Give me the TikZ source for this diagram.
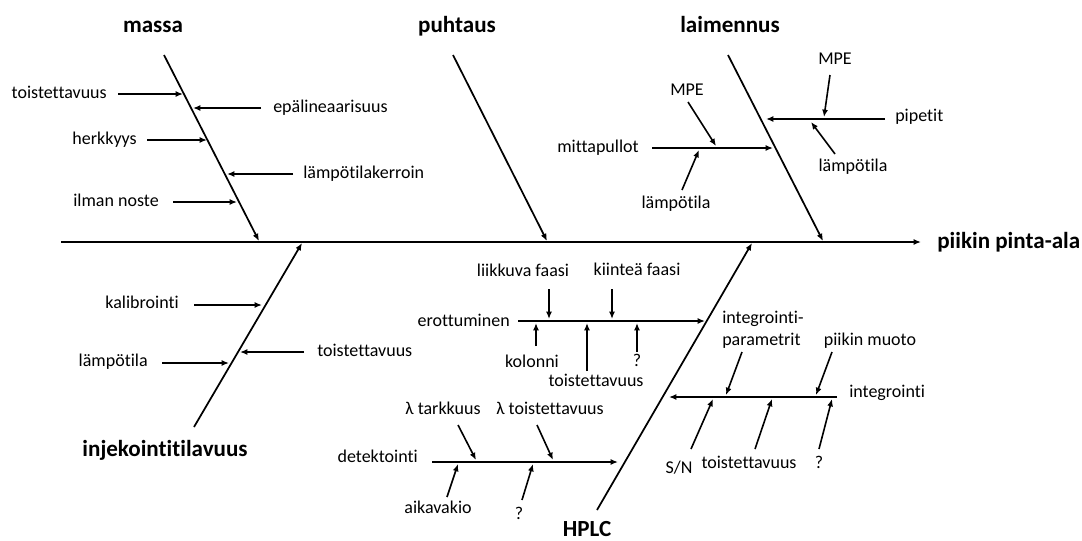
\documentclass[tikz,border=0pt]{standalone}
\usepackage{fontspec}
\setmainfont{Carlito}[Ligatures=NoCommon]
\usetikzlibrary{arrows.meta}
\begin{document}
\begin{tikzpicture}[x=0.75pt,y=-0.75pt,
  lbl/.style={font=\fontsize{13.5}{15.8}\selectfont, inner sep=0pt, text height=9.5pt, text depth=3pt},
  lbltwo/.style={font=\fontsize{13.5}{15.8}\selectfont, inner sep=0pt, align=left},
  ttl/.style={font=\fontsize{17.3}{20}\selectfont\bfseries, inner sep=0pt, text height=12pt, text depth=4pt},
  bone/.style={line width=1.3pt, -{Latex[length=5.5pt,width=4.5pt]}},
  arr/.style={line width=1.2pt, -{Latex[length=5.5pt,width=4.5pt]}}]
\useasboundingbox (0,0) rectangle (1082,540);

% titles
\node[ttl] (tmassa) at (153,27) {massa};
\node[ttl] (tpuht) at (457,27) {puhtaus};
\node[ttl] (tlaim) at (730,27) {laimennus};
\node[ttl, anchor=west] (teff) at (937,243) {piikin pinta-ala};
\node[ttl] (tinj) at (165,451) {injekointitilavuus};
\node[ttl] (thplc) at (587,531) {HPLC};

% spine
\coordinate (s0) at (61,242);
\coordinate (s1) at (921,242);
\draw[bone] (s0) -- (s1);

% main bones
\coordinate (m0) at (164,55);  \coordinate (m1) at (259,241);
\coordinate (p0) at (453,55);  \coordinate (p1) at (547,241);
\coordinate (l0) at (728,55);  \coordinate (l1) at (823,241);
\coordinate (i0) at (194,427); \coordinate (i1) at (302,243);
\coordinate (h0) at (597,510); \coordinate (h1) at (752,243);
\draw[bone] (m0) -- (m1);
\draw[bone] (p0) -- (p1);
\draw[bone] (l0) -- (l1);
\draw[bone] (i0) -- (i1);
\draw[bone] (h0) -- (h1);

% massa causes
\node[lbl, anchor=east] (ma1) at (107,94) {toistettavuus};
\coordinate (ma1s) at (118,94); \coordinate (ma1e) at (183,94);
\draw[arr] (ma1s) -- (ma1e);
\node[lbl, anchor=west] (ma2) at (273,108) {epälineaarisuus};
\coordinate (ma2s) at (261,108); \coordinate (ma2e) at (193,108);
\draw[arr] (ma2s) -- (ma2e);
\node[lbl, anchor=east] (ma3) at (137,140) {herkkyys};
\coordinate (ma3s) at (147,140); \coordinate (ma3e) at (207,140);
\draw[arr] (ma3s) -- (ma3e);
\node[lbl, anchor=west] (ma4) at (303,174) {lämpötilakerroin};
\coordinate (ma4s) at (293,174); \coordinate (ma4e) at (227,174);
\draw[arr] (ma4s) -- (ma4e);
\node[lbl, anchor=east] (ma5) at (159,202) {ilman noste};
\coordinate (ma5s) at (173,202); \coordinate (ma5e) at (237,202);
\draw[arr] (ma5s) -- (ma5e);

% laimennus causes
\node[lbl, anchor=east] (la1) at (639,148) {mittapullot};
\coordinate (mp0) at (652,148); \coordinate (mp1) at (773,148);
\draw[arr] (mp0) -- (mp1);
\node[lbl] (la2) at (687,91) {MPE};
\coordinate (la2s) at (688,102); \coordinate (la2e) at (716,146);
\draw[arr] (la2s) -- (la2e);
\node[lbl] (la3) at (676,204) {lämpötila};
\coordinate (la3s) at (682,190); \coordinate (la3e) at (699,150);
\draw[arr] (la3s) -- (la3e);
\node[lbl, anchor=west] (la4) at (895,117) {pipetit};
\coordinate (pp0) at (885,119); \coordinate (pp1) at (766,119);
\draw[arr] (pp0) -- (pp1);
\node[lbl] (la5) at (835,60) {MPE};
\coordinate (la5s) at (830,75); \coordinate (la5e) at (824,117);
\draw[arr] (la5s) -- (la5e);
\node[lbl] (la6) at (853,167) {lämpötila};
\coordinate (la6s) at (835,154); \coordinate (la6e) at (811,122);
\draw[arr] (la6s) -- (la6e);

% injekointitilavuus causes
\node[lbl, anchor=east] (in1) at (179,304) {kalibrointi};
\coordinate (in1s) at (194,305); \coordinate (in1e) at (262,305);
\draw[arr] (in1s) -- (in1e);
\node[lbl, anchor=west] (in2) at (317,352) {toistettavuus};
\coordinate (in2s) at (304,352); \coordinate (in2e) at (240,352);
\draw[arr] (in2s) -- (in2e);
\node[lbl, anchor=east] (in3) at (148,362) {lämpötila};
\coordinate (in3s) at (162,363); \coordinate (in3e) at (229,363);
\draw[arr] (in3s) -- (in3e);

% HPLC: erottuminen
\node[lbl, anchor=east] (er) at (510,322) {erottuminen};
\coordinate (er0) at (518,321); \coordinate (er1) at (705,321);
\draw[arr] (er0) -- (er1);
\node[lbl] (er1t) at (523,272) {liikkuva faasi};
\coordinate (er1s) at (549,289); \coordinate (er1e) at (549,319);
\draw[arr] (er1s) -- (er1e);
\node[lbl] (er2t) at (637,271) {kiinteä faasi};
\coordinate (er2s) at (612,289); \coordinate (er2e) at (612,319);
\draw[arr] (er2s) -- (er2e);
\node[lbl] (er3t) at (532,363) {kolonni};
\coordinate (er3s) at (536,346); \coordinate (er3e) at (536,323);
\draw[arr] (er3s) -- (er3e);
\node[lbl] (er4t) at (596,382) {toistettavuus};
\coordinate (er4s) at (587,371); \coordinate (er4e) at (587,323);
\draw[arr] (er4s) -- (er4e);
\node[lbl] (er5t) at (637,362) {?};
\coordinate (er5s) at (637,352); \coordinate (er5e) at (637,323);
\draw[arr] (er5s) -- (er5e);

% HPLC: detektointi
\node[lbl, anchor=east] (de) at (418,458) {detektointi};
\coordinate (de0) at (432,462); \coordinate (de1) at (618,462);
\draw[arr] (de0) -- (de1);
\node[lbl] (de1t) at (443,410) {λ tarkkuus};
\coordinate (de1s) at (458,425); \coordinate (de1e) at (476,460);
\draw[arr] (de1s) -- (de1e);
\node[lbl] (de2t) at (550,410) {λ toistettavuus};
\coordinate (de2s) at (537,425); \coordinate (de2e) at (553,460);
\draw[arr] (de2s) -- (de2e);
\node[lbl] (de3t) at (438,509) {aikavakio};
\coordinate (de3s) at (447,497); \coordinate (de3e) at (458,464);
\draw[arr] (de3s) -- (de3e);
\node[lbl] (de4t) at (519,515) {?};
\coordinate (de4s) at (522,500); \coordinate (de4e) at (533,464);
\draw[arr] (de4s) -- (de4e);

% HPLC: integrointi
\node[lbl, anchor=west] (ig) at (849,393) {integrointi};
\coordinate (ig0) at (837,397); \coordinate (ig1) at (669,397);
\draw[arr] (ig0) -- (ig1);
\node[lbltwo, anchor=base west] (ig1t) at (722,345) {integrointi-\\parametrit};
\coordinate (ig1s) at (742,352); \coordinate (ig1e) at (726,395);
\draw[arr] (ig1s) -- (ig1e);
\node[lbl] (ig2t) at (870,341) {piikin muoto};
\coordinate (ig2s) at (832,352); \coordinate (ig2e) at (816,395);
\draw[arr] (ig2s) -- (ig2e);
\node[lbl] (ig3t) at (679,469) {S/N};
\coordinate (ig3s) at (691,449); \coordinate (ig3e) at (713,399);
\draw[arr] (ig3s) -- (ig3e);
\node[lbl] (ig4t) at (749,464) {toistettavuus};
\coordinate (ig4s) at (755,449); \coordinate (ig4e) at (772,399);
\draw[arr] (ig4s) -- (ig4e);
\node[lbl] (ig5t) at (819,464) {?};
\coordinate (ig5s) at (819,449); \coordinate (ig5e) at (832,399);
\draw[arr] (ig5s) -- (ig5e);
\end{tikzpicture}
\end{document}
